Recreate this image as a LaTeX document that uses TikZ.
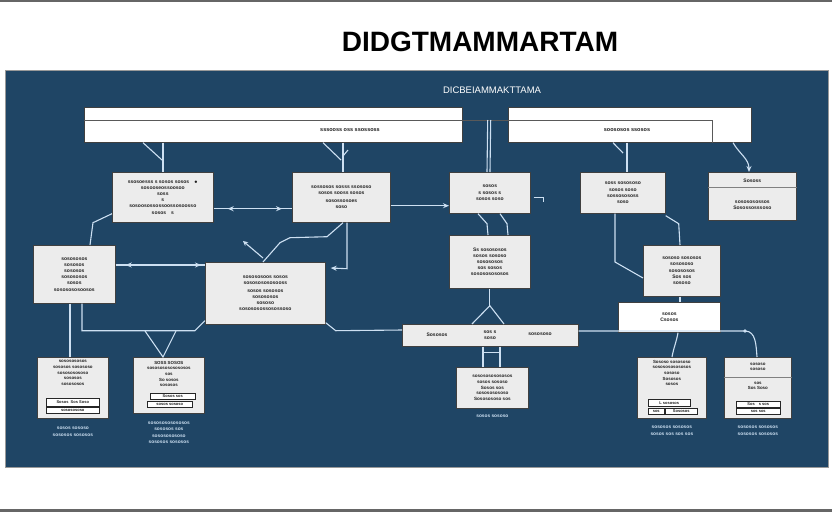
\documentclass[tikz,border=0pt]{standalone}
\usepackage{fontspec}
\setmainfont{Liberation Sans}
\usetikzlibrary{arrows.meta,calc}
\definecolor{panel}{RGB}{31,69,101}
\definecolor{wire}{RGB}{205,224,242}
\definecolor{boxfill}{RGB}{236,236,236}
\definecolor{ink}{RGB}{30,30,30}
\begin{document}
\begin{tikzpicture}[x=1pt,y=-1pt,
  box/.style={draw=black!75, line width=0.7pt, fill=boxfill, anchor=north west, inner sep=1pt,
    font=\bfseries\fontsize{5}{6.2}\selectfont, text=ink, align=center},
  wbox/.style={box, fill=white},
  btxt/.style={font=\bfseries\fontsize{5}{6.2}\selectfont, text=ink, inner sep=0, align=center},
  stxt/.style={font=\bfseries\fontsize{4.4}{5.6}\selectfont, text=ink, inner sep=0, align=center},
  mini/.style={draw=black!85, line width=0.5pt, fill=white, anchor=north west, inner sep=0.5pt,
    font=\bfseries\fontsize{4}{4.5}\selectfont, text=ink},
  wirel/.style={draw=wire, line width=1.1pt},
  arr/.style={wirel, -{Stealth[length=6pt,width=5pt]}},
  capt/.style={text=wire, font=\bfseries\fontsize{4.8}{6.2}\selectfont, align=center}
]
\useasboundingbox (0,0) rectangle (832,512);
\fill[white] (0,0) rectangle (832,512);
\fill[black!60] (0,0) rectangle (832,2);
\fill[black!60] (0,509) rectangle (832,512);
\node[font=\bfseries\fontsize{28}{30}\selectfont, inner sep=0] (title) at (480,42) {DIDGTMAMMARTAM};
\node[fill=panel, draw=black!40, line width=0.6pt, minimum width=823, minimum height=397, anchor=north west, inner sep=0] (panelbox) at (5,70) {};
\node[text=white, font=\fontsize{9.5}{10}\selectfont, inner sep=0] (subtitle) at (492,90) {DICBEIAMMAKTTAMA};

% top wide boxes
\node[wbox, minimum width=378, minimum height=35] (box1) at (84,107) {};
\node[wbox, minimum width=243, minimum height=35] (box2) at (508,107) {};
\draw[black!65, line width=1pt] ($(box1.north west)+(0,13)$) -- ($(box2.north west)+(204,13)$) -- ($(box2.south west)+(204,0)$);
\node[btxt, font=\bfseries\fontsize{5.5}{6.5}\selectfont] (t1) at (350,130) {sssooss oss ssossoss};
\node[btxt, font=\bfseries\fontsize{5.5}{6.5}\selectfont] (t2) at (627,130) {soososos ssosos};

% row 2
\node[box, minimum width=101, minimum height=50] (A) at (112,172) {ssosoesss s sosos sosos\quad$\bullet$\\ sosooseossoosoo\\ soss\\ s\\ sosoosossossoossosoosso\\ sosos\quad s};
\node[box, minimum width=98, minimum height=50] (B) at (292,172) {sossosos sosss ssososo\\ sosos sooss sosos\\[2pt] sosossosoes\\ soso};
\node[box, minimum width=81, minimum height=41] (C) at (449,172) {sosos\\ s sosos s\\ sosos soso};
\node[box, minimum width=85, minimum height=41] (D) at (580,172) {soss sosososo\\ sosos soso\\ sossosososs\\ soso};
\node[box, minimum width=88, minimum height=48] (E) at (708,172) {};
\draw[black!50, line width=0.5pt] ($(E.north west)+(0,15)$) -- ($(E.north east)+(0,15)$);
\node[btxt] (Eh) at ($(E.north)+(0,9)$) {Sososs};
\node[btxt] (Eb) at ($(E.north)+(0,33)$) {sosososossos\\ Sosossosssoso};

% row 3
\node[box, minimum width=82, minimum height=58] (F) at (33,245) {sosososos\\ sososos\\ sososos\\ sosososos\\ sosos\\ sososososoosos};
\node[box, minimum width=120, minimum height=62] (G) at (205,262) {sosososoos sosos\\ sosososososooss\\[1pt] sosos sososos\\ sosososos\\ sososo\\ sosososossosossoso};
\node[box, minimum width=81, minimum height=53] (H) at (449,235) {Ss sosososos\\ sosos sososo\\ sosososos\\ sos sosos\\ sosososososos};
\node[box, minimum width=77, minimum height=51] (I) at (643,245) {sososo sososos\\ sosososo\\ sosososos\\ Sos sos\\ sososo};

% row 4
\node[box, minimum width=176, minimum height=22] (J) at (402,324) {};
\node[btxt] (Jl) at ($(J.west)+(35,-1)$) {Sososos};
\node[btxt] (Jm) at ($(J.west)+(88,0)$) {sos s\\ soso};
\node[btxt] (Jr) at ($(J.west)+(138,-1)$) {sosososo};
\node[wbox, minimum width=102, minimum height=30] (K) at (618,302) {sosos\\ Csosos};

% row 5
\node[box, minimum width=71, minimum height=61] (L) at (37,357) {};
\node[stxt] (Lt) at ($(L.north)+(0,16)$) {sososososos\\ sososos sosososo\\ sosososososo\\ sososos\\ sosososos};
\node[mini, minimum width=53, minimum height=8] (L1) at ($(L.north west)+(9,41)$) {Sosos\ \ Sos Soso};
\node[mini, minimum width=53, minimum height=6] (L2) at ($(L.north west)+(9,50)$) {sososososo};
\node[capt] (Lc) at ($(L.south)+(0,13)$) {sosos sososo\\ sososos sososos};

\node[box, minimum width=71, minimum height=56] (M) at (133,357) {};
\node[stxt] (Mt) at ($(M.north)+(0,17)$) {SOSS SOSOS\\ sosososososososos\\ sos\\ So sosos\\ sososos};
\node[mini, minimum width=45, minimum height=6] (M1) at ($(M.north west)+(17,36)$) {Sosos sos};
\node[mini, minimum width=45, minimum height=6] (M2) at ($(M.north west)+(14,44)$) {sosos sososo};
\node[capt] (Mc) at ($(M.south)+(0,19)$) {sososososososos\\ sososos sos\\[1pt] sosososososo\\ sososos sososos};

\node[box, minimum width=72, minimum height=41, font=\bfseries\fontsize{4.6}{5.8}\selectfont] (N) at (456,367) {sososososososos\\ sosos sososo\\ Sosos sos\\ sosososososo\\ Sososososo sos};
\node[capt] (Nc) at ($(N.south)+(0,8)$) {sosos sososo};

\node[box, minimum width=69, minimum height=61] (O) at (637,357) {};
\node[stxt] (Ot) at ($(O.north)+(0,16)$) {Sososo sosososo\\ sososososososos\\ sososo\\ Sososos\\ sosos};
\node[mini, minimum width=42, minimum height=7] (O1) at ($(O.north west)+(11,42)$) {L sososos};
\node[mini, minimum width=16, minimum height=6] (O2) at ($(O.north west)+(11,51)$) {sos};
\node[mini, minimum width=32, minimum height=6] (O3) at ($(O.north west)+(28,51)$) {Sososos};
\node[capt] (Oc) at ($(O.south)+(0,12)$) {sososos sososos\\ sosos sos sos sos};

\node[box, minimum width=67, minimum height=61] (P) at (724,357) {};
\draw[black!50, line width=0.5pt] ($(P.north west)+(0,20)$) -- ($(P.north east)+(0,20)$);
\node[stxt] (Pt) at ($(P.north)+(0,10)$) {sososo\\ sososo};
\node[stxt] (Pb) at ($(P.north)+(0,29)$) {sos\\ Sos Soso};
\node[mini, minimum width=44, minimum height=6] (P1) at ($(P.north west)+(12,44)$) {Sos\quad s sos};
\node[mini, minimum width=44, minimum height=6] (P2) at ($(P.north west)+(12,51)$) {sos sos};
\node[capt] (Pc) at ($(P.south)+(0,12)$) {sososos sososos\\ sososos sososos};

% connectors: top boxes to row 2
\draw[wirel] ($(box1.south west)+(79,0)$) -- ($(A.north west)+(51,0)$);
\draw[wirel] ($(box1.south west)+(59,0)$) -- ($(A.north west)+(50,-12)$);
\draw[wirel] ($(box1.south west)+(259,0)$) -- ($(B.north west)+(51,0)$);
\draw[wirel] ($(box1.south west)+(239,0)$) -- ($(B.north west)+(49,-12)$);
\draw[wirel] ($(B.north west)+(51,-16)$) -- ($(B.north west)+(56,-22)$);
\draw[wirel] ($(box1.north east)+(25,13)$) -- ($(C.north west)+(38,0)$);
\draw[wirel] ($(box1.north east)+(28,13)$) -- ($(C.north west)+(41,0)$);
\draw[wirel] ($(box2.south west)+(119,0)$) -- ($(D.north west)+(47,0)$);
\draw[wirel] ($(box2.south west)+(105,0)$) -- ($(D.north west)+(43,-19)$);
\draw[arr] ($(box2.south west)+(225,0)$) to[out=-60,in=90] ($(E.north west)+(41,0)$);

% row 2 connections
\draw[wirel] ($(A.south east)+(0,-14)$) -- ($(B.south west)+(0,-14)$);
\draw[arr] ($(A.south east)+(40,-14)$) -- ($(A.south east)+(14,-14)$);
\draw[arr] ($(B.south west)+(-40,-14)$) -- ($(B.south west)+(-10,-14)$);
\draw[arr] ($(B.south east)+(0,-17)$) -- ($(C.south west)+(0,-8)$);
\draw[wirel] ($(C.south east)+(3,-16)$) -- ++(10,0) -- ++(0,4);
\draw[wirel] ($(C.south west)+(29,0)$) -- ++(9,10) -- ($(H.north west)+(39,0)$);
\draw[wirel] ($(C.south west)+(51,0)$) -- ++(7,10) -- ($(H.north west)+(59,0)$);
\draw[wirel] ($(D.south west)+(35,0)$) -- ($(I.north west)+(-28,17)$) -- ($(I.north west)+(0,33)$);
\draw[wirel] ($(D.south east)+(0,2)$) -- ++(13,8) -- ($(I.north west)+(37,0)$);

% B/A to row 3
\draw[wirel] ($(B.south west)+(51,0)$) -- ++(-16,14) -- ++(-37,1) -- ++(-10,5) -- ($(G.north west)+(58,0)$);
\draw[wirel, -{Stealth[length=5pt,width=5pt]}] ($(G.north west)+(58,-4)$) -- ($(G.north west)+(38,-21)$);
\draw[arr] ($(B.south west)+(55,0)$) -- ++(0,46) -- ($(G.north east)+(5,6)$);
\draw[wirel] ($(F.north east)+(0,20)$) -- ($(G.north west)+(0,3)$);
\draw[arr] ($(F.north east)+(40,20)$) -- ($(F.north east)+(10,20)$);
\draw[arr] ($(G.north west)+(-30,3)$) -- ($(G.north west)+(-4,3)$);
\draw[wirel] ($(A.south west)+(0,-9)$) -- ++(-19,9) -- ($(F.north west)+(57,0)$);

% row 3 to row 4/5
\draw[wirel] ($(F.south west)+(37,0)$) -- ($(L.north west)+(33,0)$);
\draw[wirel] ($(F.south west)+(49,0)$) -- ++(0,27) -- ($(G.south west)+(-10,6)$) -- ($(G.south west)+(0,-4)$);
\draw[wirel] ($(M.north west)+(12,-26)$) -- ($(M.north west)+(30,0)$) -- ($(M.north west)+(43,-26)$);
\draw[wirel] ($(G.south east)+(0,-2)$) -- ++(10,8) -- ($(J.north west)+(0,6)$);
\draw[wirel] (H.south) -- ++(0,17) coordinate (Hv);
\draw[wirel] ($(J.north west)+(70,0)$) -- (Hv) -- ($(J.north west)+(102,0)$);
\draw[wirel] ($(J.south west)+(81,0)$) -- ($(N.north west)+(27,0)$);
\draw[wirel] ($(J.south west)+(98,0)$) -- ($(N.north west)+(44,0)$);
\draw[wirel] ($(J.south west)+(81,6)$) -- ($(J.south west)+(98,6)$);
\draw[wirel] ($(J.north east)+(0,7)$) -- ($(P.north west)+(21,-26)$) to[out=0,in=95] ($(P.north west)+(33,0)$);
\fill[wire] ($(P.north west)+(21,-26)$) circle (1.8pt);
\draw[wirel] ($(I.south west)+(37,0)$) -- ($(K.north west)+(62,0)$);
\draw[wirel] ($(K.south west)+(60,0)$) to[out=-100,in=80] ($(O.north west)+(35,0)$);
\end{tikzpicture}
\end{document}
